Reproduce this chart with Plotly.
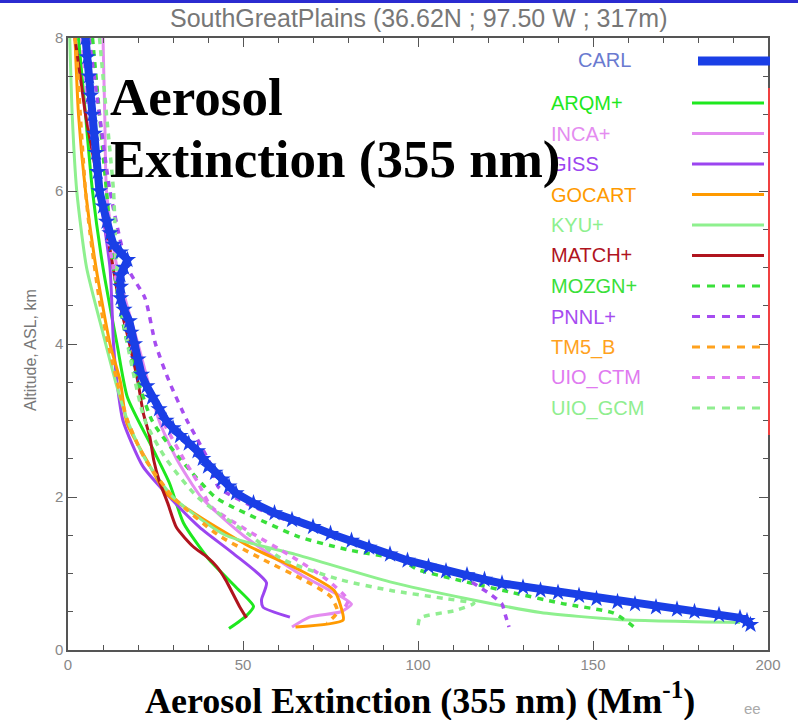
import plotly.graph_objects as go

# ---------------- data ----------------
carl_alt = [0.33, 0.38, 0.42, 0.46, 0.5, 0.53, 0.56, 0.6, 0.63, 0.67, 0.71, 0.75, 0.78, 0.82,
            0.87, 0.92, 0.98, 1.03, 1.09, 1.17, 1.25, 1.34, 1.43, 1.52, 1.61, 1.7, 1.79, 1.92,
            2.05, 2.14, 2.23, 2.32, 2.4, 2.5, 2.6, 2.7, 2.8, 2.9, 3.0, 3.15, 3.3, 3.45, 3.6,
            3.8, 4.0, 4.15, 4.3, 4.45, 4.6, 4.75, 4.9, 5.0, 5.1, 5.2, 5.3, 5.45, 5.6, 5.8, 6.0,
            6.25, 6.5, 6.75, 7.0, 7.25, 7.5, 7.75, 8.0]
carl_ext = [195, 194, 192, 186, 179, 174, 168, 162, 157, 151, 146, 140, 135, 130,
            124, 119, 114, 108, 103, 97, 92, 86, 81, 75, 70, 64, 59, 53,
            48, 46, 44, 42, 40, 38.5, 37, 34.5, 32, 30, 28, 26, 24, 22.5, 21,
            20, 19, 18, 17.5, 16, 15, 15, 15, 16, 17, 15, 13, 12, 11, 10, 9,
            8.5, 8, 7.5, 7, 6.5, 6, 5.5, 5]

arqm_alt = [8, 7, 6, 5, 4, 3.3, 2.65, 2.18, 1.66, 1.2, 0.82, 0.57, 0.45, 0.28]
arqm_ext = [3, 5, 7, 10, 14, 17, 24, 29, 33, 40, 48, 53, 51, 46]

inca_alt = [8, 7, 6, 5, 4, 3, 2.5, 2, 1.5, 1.0, 0.7, 0.6, 0.5, 0.43, 0.3]
inca_ext = [10, 10.5, 11, 14, 20, 26, 31, 38, 50, 66, 78, 81, 78, 69, 64]

giss_alt = [8, 7, 6, 5, 4, 3.5, 3.0, 2.4, 2.0, 1.6, 1.27, 0.88, 0.66, 0.56, 0.43]
giss_ext = [5, 7, 9, 12, 13, 14, 15.7, 21.4, 29, 37.7, 47, 56.7, 55.3, 55.7, 63.4]

gocart_alt = [8, 7, 6, 5, 4, 3.5, 2.97, 2.48, 2.05, 1.74, 1.35, 1.05, 0.78, 0.56, 0.39, 0.3]
gocart_ext = [2, 3, 5, 8, 12, 15, 16.8, 22.5, 28, 37.7, 52, 66, 76, 78, 78.6, 65]

kyu_alt = [8, 7, 6, 5, 4.14, 3.44, 3, 2.5, 2, 1.5, 1.25, 0.89, 0.67, 0.49, 0.4, 0.36]
kyu_ext = [0.5, 1.2, 2.5, 5.3, 10, 14, 17, 22, 30, 45, 65, 92, 114, 135, 157, 192]

match_alt = [8.0, 7.5, 7.0, 6.5, 6.0, 5.5, 5.0, 4.6, 4.15, 3.8, 3.5, 3.1, 2.78, 2.48, 2.22,
             1.92, 1.6, 1.35, 1.22, 1.09, 0.92, 0.57, 0.42]
match_ext = [2, 3.5, 5, 7, 9, 11, 12.9, 14.4, 16.8, 18.6, 20, 21.5, 23.4, 24.5, 26,
             28.5, 31, 35.8, 39.6, 42.5, 45, 49, 51]

mozgn_alt = [8, 7, 6, 5, 4, 3, 2.5, 2.0, 1.87, 1.48, 1.31, 1.18, 1.05, 0.92, 0.75, 0.61, 0.48, 0.29]
mozgn_ext = [7, 9, 11, 13, 17, 24, 32, 42, 47, 66, 80, 95, 100, 111, 127, 141, 156, 162]

pnnl_alt = [8, 7, 6, 5, 4.6, 4, 3.5, 3.0, 2.75, 2.4, 2.13, 1.79, 1.57, 1.35, 1.15, 1.0, 0.75, 0.6, 0.45, 0.3]
pnnl_ext = [6, 9, 12, 17, 22, 25, 29, 34, 37, 41, 43, 57, 71, 84, 100, 111, 120, 124, 125, 126]

tm5_alt = [8, 7.7, 7, 6, 5.45, 4.57, 3.9, 3, 2.5, 2, 1.5, 1.2, 0.9, 0.7, 0.5, 0.35]
tm5_ext = [2, 2.6, 3.5, 5, 6.3, 9, 12, 17, 22, 30, 43, 55, 68, 75, 77, 74]

uioctm_alt = [8, 7, 6, 5, 4, 3.5, 3.0, 2.5, 2.2, 1.87, 1.57, 1.22, 0.92, 0.65, 0.55]
uioctm_ext = [4, 6, 9, 13, 18, 22, 27, 33, 37, 41, 51, 64, 74, 80, 79]

uiogcm_alt = [8, 7, 6, 5, 4, 3, 2.5, 2.0, 1.5, 1.18, 0.92, 0.78, 0.67, 0.61, 0.52, 0.42, 0.31]
uiogcm_ext = [9, 11, 13, 14, 17, 22, 28, 37, 52, 61.5, 77.7, 92, 108, 116, 111, 100.6, 100]

model_names = ["ARQM+", "INCA+", "GISS", "GOCART", "KYU+", "MATCH+",
               "MOZGN+", "PNNL+", "TM5_B", "UIO_CTM", "UIO_GCM"]
model_colors = ["#1ee81e", "#e48cf0", "#9b45f0", "#ff9a00", "#8ef08e", "#b0141e",
                "#3ae03a", "#a64cf0", "#ffa21e", "#e07af0", "#90ee90"]
model_dash = ["solid", "solid", "solid", "solid", "solid", "solid",
              "dash", "dash", "dash", "dash", "dash"]
model_ext = [arqm_ext, inca_ext, giss_ext, gocart_ext, kyu_ext, match_ext,
             mozgn_ext, pnnl_ext, tm5_ext, uioctm_ext, uiogcm_ext]
model_alt = [arqm_alt, inca_alt, giss_alt, gocart_alt, kyu_alt, match_alt,
             mozgn_alt, pnnl_alt, tm5_alt, uioctm_alt, uiogcm_alt]

x_ticks = [0, 50, 100, 150, 200]
y_ticks = [0, 2, 4, 6, 8]

carl_color = "#1a3fe6"

# ---------------- figure ----------------
W, H = 798, 720
L, R, T, B = 68, 30, 38, 70
pw, ph = W - L - R, H - T - B

def px(xp):
    return (xp - L) / pw

def py(yp):
    return (H - B - yp) / ph

fig = go.Figure()

for name, col, dash, ex, al in zip(model_names, model_colors, model_dash, model_ext, model_alt):
    fig.add_trace(go.Scatter(x=ex, y=al, mode="lines", name=name,
                             line=dict(color=col, width=3.5 if dash == "dash" else 3,
                                       dash="6px,6px" if dash == "dash" else "solid",
                                       shape="spline", smoothing=0.6),
                             showlegend=False))

fig.add_trace(go.Scatter(x=carl_ext, y=carl_alt, mode="lines+markers", name="CARL",
                         line=dict(color=carl_color, width=8),
                         marker=dict(symbol="star", size=13, color=carl_color),
                         showlegend=False))

annotations = []
shapes = []

# top blue slide border
shapes.append(dict(type="rect", xref="paper", yref="paper", x0=px(0), x1=px(W),
                   y0=py(3), y1=py(0), fillcolor="#2b2bd0", line=dict(width=0), layer="above"))

# legend (CARL)
annotations.append(dict(xref="paper", yref="paper", x=px(576), y=py(60), text="CARL",
                        showarrow=False, xanchor="left", yanchor="middle",
                        font=dict(family="Liberation Sans", size=20, color="#6a7ad0")))
shapes.append(dict(type="line", xref="paper", yref="paper", x0=px(698), x1=px(770),
                   y0=py(61), y1=py(61), line=dict(color=carl_color, width=9)))

for i, (name, col, dash) in enumerate(zip(model_names, model_colors, model_dash)):
    yp = 103 + 30.5 * i
    annotations.append(dict(xref="paper", yref="paper", x=px(549), y=py(yp), text=name,
                            showarrow=False, xanchor="left", yanchor="middle",
                            font=dict(family="Liberation Sans", size=20, color=col)))
    shapes.append(dict(type="line", xref="paper", yref="paper", x0=px(692), x1=px(764),
                       y0=py(yp), y1=py(yp),
                       line=dict(color=col, width=3,
                                 dash="8px,7px" if dash == "dash" else "solid")))

# red vertical line
shapes.append(dict(type="line", xref="paper", yref="paper", x0=px(769), x1=px(769),
                   y0=py(88), y1=py(435), line=dict(color="#f04040", width=2)))

# title
annotations.append(dict(xref="paper", yref="paper", x=px(418), y=py(18),
                        text="SouthGreatPlains (36.62N ; 97.50 W ; 317m)", showarrow=False,
                        xanchor="center", yanchor="middle",
                        font=dict(family="Liberation Sans", size=25, color="#777777")))

# y-axis title
annotations.append(dict(xref="paper", yref="paper", x=px(30), y=py(350),
                        text="Altitude, ASL, km", showarrow=False, textangle=-90,
                        xanchor="center", yanchor="middle",
                        font=dict(family="Liberation Sans", size=16, color="#777777")))

# big overlay text
annotations.append(dict(xref="paper", yref="paper", x=px(108), y=py(97),
                        text="<b>Aerosol</b>", showarrow=False, xanchor="left", yanchor="middle",
                        font=dict(family="Liberation Serif", size=53, color="#000000")))
annotations.append(dict(xref="paper", yref="paper", x=px(108), y=py(160),
                        text="<b>Extinction (355 nm)</b>", showarrow=False, xanchor="left",
                        yanchor="middle",
                        font=dict(family="Liberation Serif", size=53, color="#000000")))

# bottom x title
annotations.append(dict(xref="paper", yref="paper", x=px(420), y=py(698),
                        text="<b>Aerosol Extinction (355 nm) (Mm<sup>-1</sup>)</b>",
                        showarrow=False, xanchor="center", yanchor="middle",
                        font=dict(family="Liberation Serif", size=36, color="#000000")))
annotations.append(dict(xref="paper", yref="paper", x=px(752), y=py(708), text="ee",
                        showarrow=False, xanchor="center", yanchor="middle",
                        font=dict(family="Liberation Sans", size=15, color="#aaaaaa")))

axis_common = dict(showgrid=False, zeroline=False, showline=True, linecolor="#555555",
                   linewidth=1.5, mirror="ticks", ticks="inside", ticklen=9,
                   tickcolor="#555555", tickfont=dict(family="Liberation Sans", size=15,
                                                      color="#888888"))

fig.update_layout(
    width=W, height=H,
    margin=dict(l=L, r=R, t=T, b=B),
    paper_bgcolor="white", plot_bgcolor="white",
    xaxis=dict(range=[0, 200], tickvals=x_ticks,
               minor=dict(dtick=10, ticklen=5, ticks="inside", tickcolor="#555555"),
               **axis_common),
    yaxis=dict(range=[0, 8], tickvals=y_ticks,
               minor=dict(dtick=0.5, ticklen=5, ticks="inside", tickcolor="#555555"),
               **axis_common),
    annotations=annotations,
    shapes=shapes,
    showlegend=False,
)

fig.write_html("out.html")
